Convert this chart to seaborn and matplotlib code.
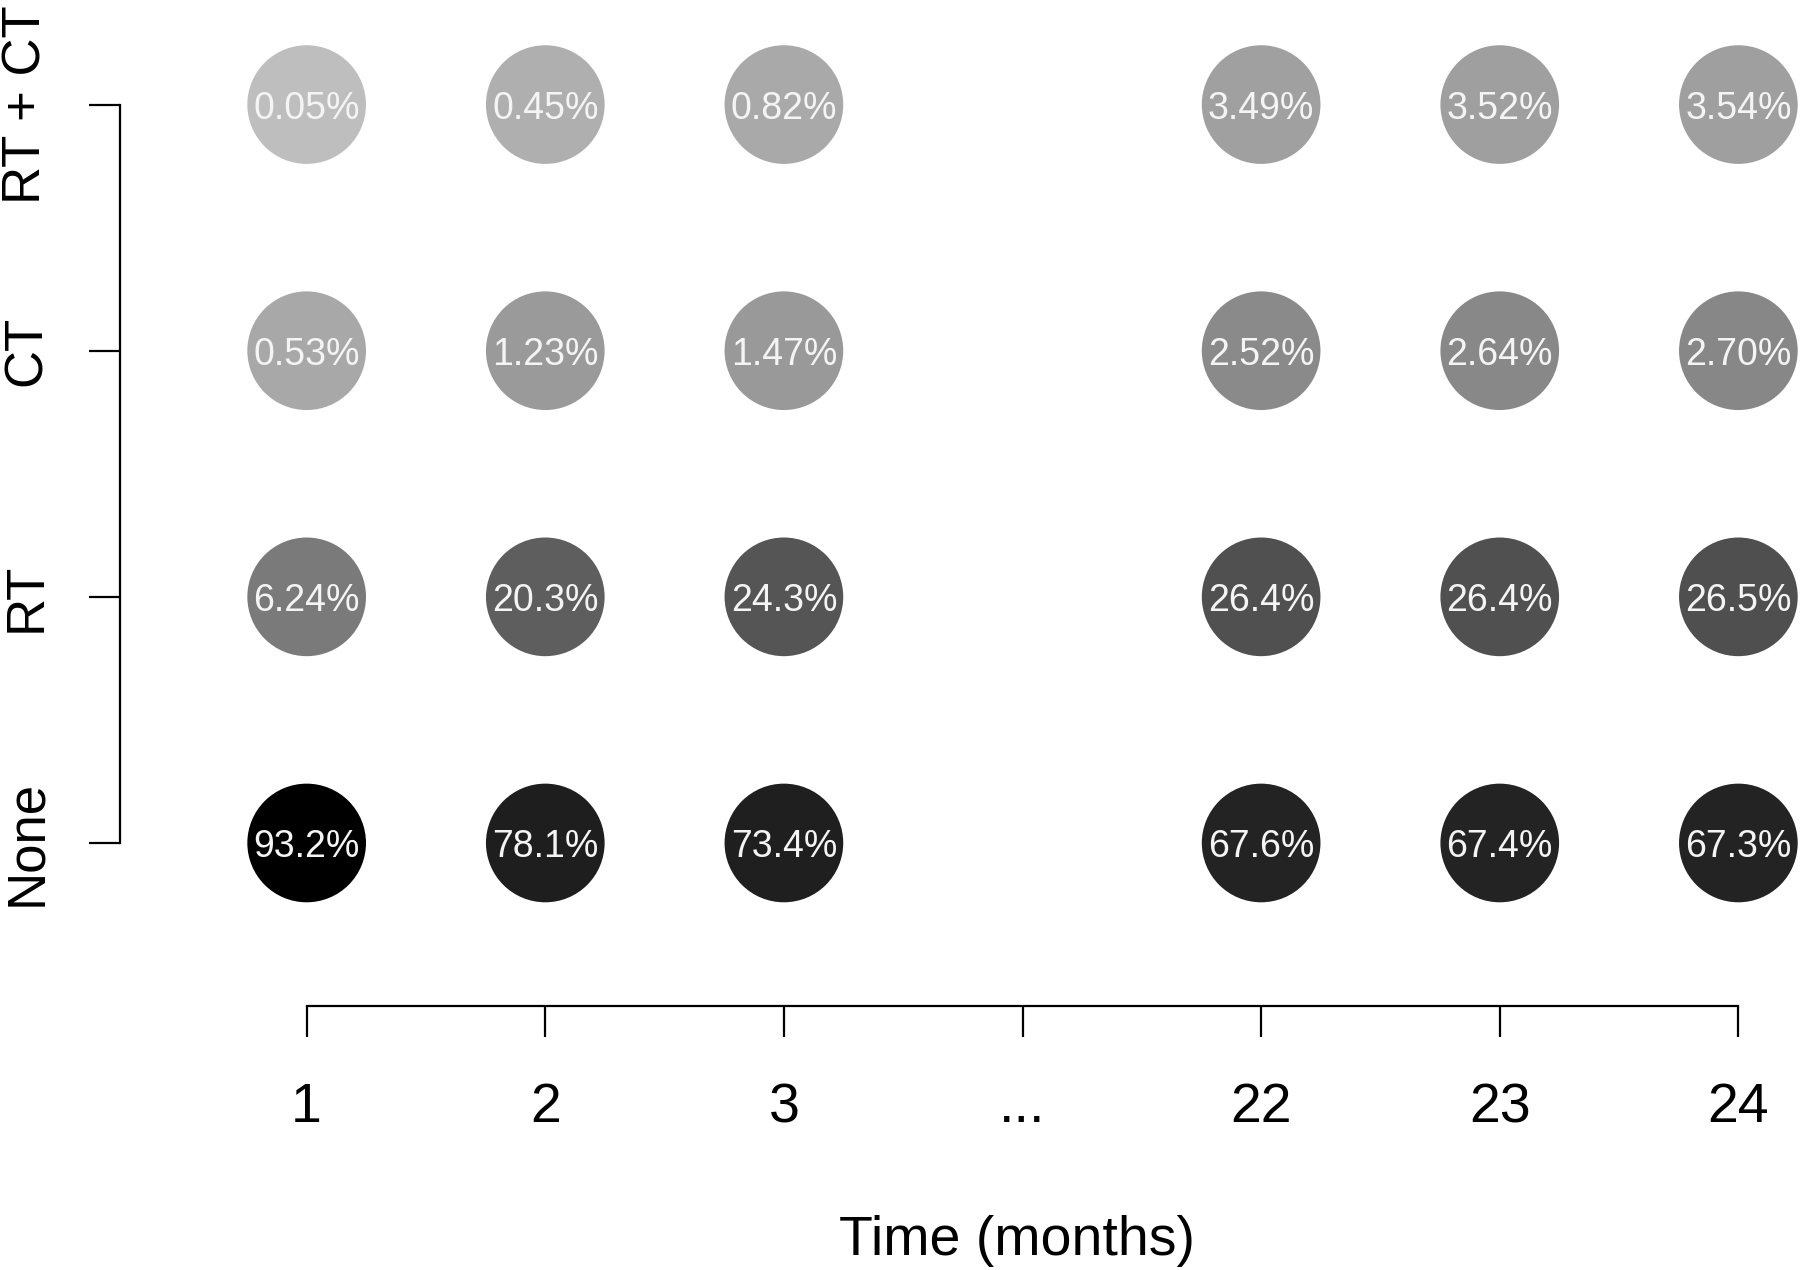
import numpy as np
import pandas as pd
import matplotlib
matplotlib.use("Agg")
import matplotlib.pyplot as plt
import seaborn as sns

# ---- data ----
time_labels = ["1", "2", "3", "...", "22", "23", "24"]
time_cols = ["1", "2", "3", "22", "23", "24"]
treatments = ["None", "RT", "CT", "RT + CT"]

pct_none = [93.2, 78.1, 73.4, 67.6, 67.4, 67.3]
pct_rt = [6.24, 20.3, 24.3, 26.4, 26.4, 26.5]
pct_ct = [0.53, 1.23, 1.47, 2.52, 2.64, 2.70]
pct_rtct = [0.05, 0.45, 0.82, 3.49, 3.52, 3.54]

lbl_none = ["93.2%", "78.1%", "73.4%", "67.6%", "67.4%", "67.3%"]
lbl_rt = ["6.24%", "20.3%", "24.3%", "26.4%", "26.4%", "26.5%"]
lbl_ct = ["0.53%", "1.23%", "1.47%", "2.52%", "2.64%", "2.70%"]
lbl_rtct = ["0.05%", "0.45%", "0.82%", "3.49%", "3.52%", "3.54%"]

rows = []
for t, p_list, l_list in zip(treatments,
                             [pct_none, pct_rt, pct_ct, pct_rtct],
                             [lbl_none, lbl_rt, lbl_ct, lbl_rtct]):
    for tc, p, l in zip(time_cols, p_list, l_list):
        rows.append({"treatment": t, "time": tc, "pct": p, "label": l})
df = pd.DataFrame(rows)
df["xpos"] = df["time"].map({lab: i for i, lab in enumerate(time_labels)})
df["ypos"] = df["treatment"].map({lab: i for i, lab in enumerate(treatments)})
df["key"] = df["treatment"] + "|" + df["time"]


def grey_of(row):
    # each treatment row has its own grey ramp (value -> grey level)
    if row["treatment"] == "RT + CT":
        g = np.interp(row["pct"], [0.05, 0.45, 0.82, 3.49, 3.54], [190, 175, 169, 160, 159])
    elif row["treatment"] == "CT":
        g = np.interp(row["pct"], [0.53, 1.23, 1.47, 2.52, 2.70], [168, 154, 153, 138, 135])
    elif row["treatment"] == "RT":
        g = np.interp(row["pct"], [6.24, 20.3, 24.3, 26.4, 26.5], [122, 94, 85, 80, 79])
    else:
        g = np.interp(row["pct"], [67.3, 73.4, 78.1, 93.2], [35, 31, 30, 0])
    g = g / 255.0
    return (g, g, g)


palette = {r["key"]: grey_of(r) for _, r in df.iterrows()}

# ---- plot ----
sns.set_style("ticks")
plt.rcParams["font.family"] = ["Liberation Sans", "DejaVu Sans"]
plt.rcParams["text.color"] = "black"
plt.rcParams["xtick.color"] = "black"
plt.rcParams["ytick.color"] = "black"
plt.rcParams["axes.labelcolor"] = "black"

fig = plt.figure(figsize=(18, 12.7), dpi=100)
ax = fig.add_axes([0.1306, 0.2781, 0.8683, 0.6977])

sns.scatterplot(data=df, x="xpos", y="ypos", hue="key", palette=palette,
                s=7300, linewidth=0, legend=False, ax=ax, clip_on=False)

for _, r in df.iterrows():
    ax.text(r["xpos"], r["ypos"], r["label"], color="#f4f4f4", fontsize=27,
            ha="center", va="center_baseline")

ax.set_xlim(-0.3, 6.25)
ax.set_ylim(-0.3, 3.3)
ax.set_xticks(range(len(time_labels)))
ax.set_yticks(range(len(treatments)))

for side in ["left", "bottom"]:
    ax.spines[side].set_linewidth(1.6)
    ax.spines[side].set_color("black")
sns.despine(ax=ax, trim=True)
ax.spines["left"].set_position(("outward", 83))
ax.spines["bottom"].set_position(("outward", 64))

ax.set_xticks(range(len(time_labels)))
ax.set_xticklabels(time_labels, fontsize=40)
ax.set_yticks(range(len(treatments)))
ax.set_yticklabels(treatments, fontsize=38, rotation=90, va="center")
ax.set_xlabel("Time (months)", fontsize=40, labelpad=58)
ax.set_ylabel("")

ax.tick_params(axis="both", length=22, width=1.6, color="black", labelcolor="black")
ax.tick_params(axis="x", pad=33)
ax.tick_params(axis="y", pad=27)

fig.savefig("out.png", dpi=100, facecolor="white")
